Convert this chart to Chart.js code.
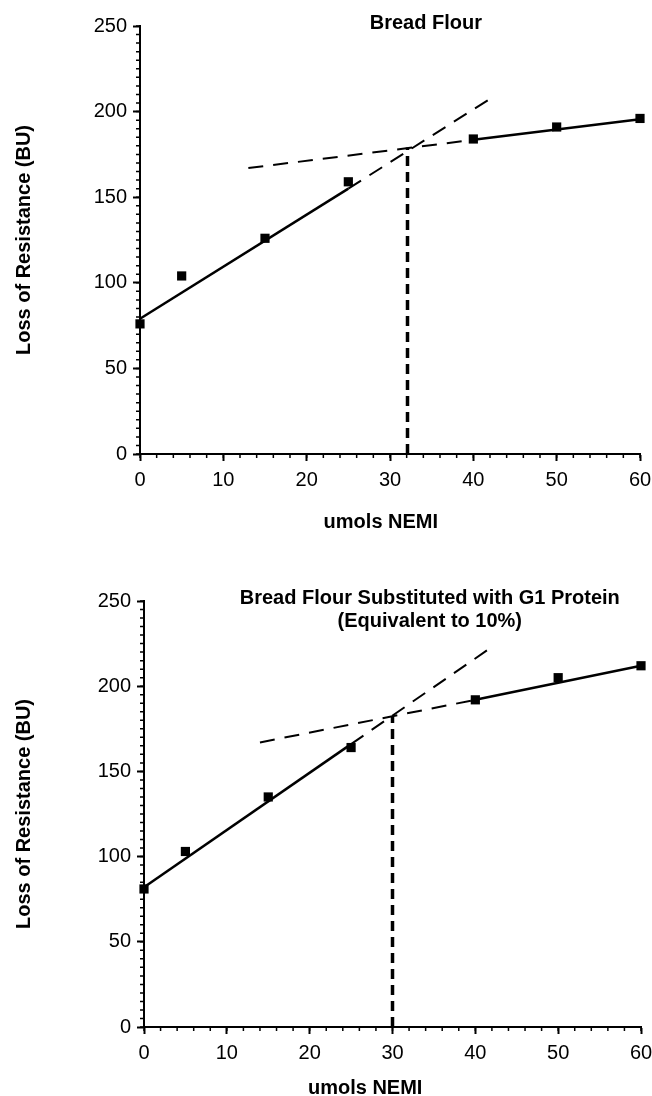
<!DOCTYPE html>
<html>
<head>
<meta charset="utf-8">
<script src="https://cdn.jsdelivr.net/npm/chart.js@4.4.1/dist/chart.umd.min.js"></script>
<style>
  body { margin: 0; background: #fff; }
  .panel { width: 652px; height: 548px; position: relative; }
  canvas { display: block; }
</style>
</head>
<body>

<div class="panel"><canvas id="topChart" width="652" height="548"></canvas></div>
<div class="panel"><canvas id="botChart" width="652" height="548"></canvas></div>

<script>
// ---- data ----
var nemi = [0, 5, 15, 25, 40, 50, 60];

// Bread Flour
var topLoss = [76, 104, 126, 159, 184, 191, 196];
var topSteepX = [0, 25, 42.5];      // solid 0-25, dashed 25-42.5
var topSteepY = [79, 155, 209];
var topFlatX = [13, 40, 60];        // dashed 13-40, solid 40-60
var topFlatY = [167, 183.5, 195.5];
var topBreakX = 32.1, topBreakY = 179;

// Bread Flour + G1 Protein
var botLoss = [81, 103, 135, 164, 192, 205, 212];
var botSteepX = [0, 25, 41.4];
var botSteepY = [82, 166, 221];
var botFlatX = [14, 40, 60];
var botFlatY = [167, 192, 212];
var botBreakX = 30, botBreakY = 182;

var yTicks = [0, 50, 100, 150, 200, 250];
var xTicks = [0, 10, 20, 30, 40, 50, 60];

var FONT = '"Liberation Sans", Arial, Helvetica, sans-serif';

function pts(xs, ys, from, to) {
	var out = [];
	for (var i = from; i <= to; i++) out.push({x: xs[i], y: ys[i]});
	return out;
}

// titles, x-axis title and minor ticks
var panelText = {
	id: 'panelText',
	afterDraw: function(chart, args, o) {
		var ctx = chart.ctx, a = chart.chartArea, sx = chart.scales.x, sy = chart.scales.y;
		ctx.save();
		ctx.fillStyle = '#000';
		ctx.strokeStyle = '#000';
		ctx.lineWidth = 1.5;
		// minor ticks
		ctx.beginPath();
		for (var v = sy.min; v <= sy.max; v += o.yMinor) {
			var py = sy.getPixelForValue(v);
			ctx.moveTo(a.left - 4, py); ctx.lineTo(a.left, py);
		}
		for (var u = sx.min; u <= sx.max; u += o.xMinor) {
			var px = sx.getPixelForValue(u);
			ctx.moveTo(px, a.bottom); ctx.lineTo(px, a.bottom + 4);
		}
		ctx.stroke();

		ctx.textAlign = 'center';
		ctx.textBaseline = 'middle';
		ctx.font = 'bold 20px ' + FONT;
		for (var i = 0; i < o.title.length; i++)
			ctx.fillText(o.title[i], sx.getPixelForValue(o.titleAt), a.top + o.titleDy + i * 23);
		ctx.fillText(o.xTitle, sx.getPixelForValue(o.xTitleAt), a.bottom + o.xTitleDy);
		ctx.restore();
	}
};

function make_chart(id, loss, steepX, steepY, flatX, flatY, breakX, breakY, look) {
	var dashFit = [15, 10];
	return new Chart(document.getElementById(id), {
		type: 'scatter',
		data: {
			datasets: [
				{ data: nemi.map(function(x, i) { return {x: x, y: loss[i]}; }),
				  pointStyle: 'rect', pointRadius: 6.5, backgroundColor: '#000', borderWidth: 0, clip: false },
				{ data: pts(steepX, steepY, 0, 1), showLine: true, borderColor: '#000', borderWidth: 2.5, pointRadius: 0, clip: false },
				{ data: pts(steepX, steepY, 1, 2), showLine: true, borderColor: '#000', borderWidth: 2, borderDash: dashFit, pointRadius: 0, clip: false },
				{ data: pts(flatX, flatY, 0, 1), showLine: true, borderColor: '#000', borderWidth: 2, borderDash: dashFit, pointRadius: 0, clip: false },
				{ data: pts(flatX, flatY, 1, 2), showLine: true, borderColor: '#000', borderWidth: 2.5, pointRadius: 0, clip: false },
				{ data: [{x: breakX, y: 0}, {x: breakX, y: breakY}], showLine: true, borderColor: '#000', borderWidth: 3.5, borderDash: [10, 6], pointRadius: 0, clip: false }
			]
		},
		options: {
			responsive: false,
			animation: false,
			layout: { padding: look.pad },
			plugins: {
				legend: { display: false },
				tooltip: { enabled: false },
				panelText: { title: look.title, titleAt: look.titleAt, titleDy: look.titleDy,
				             xTitle: 'umols NEMI', xTitleAt: look.xTitleAt, xTitleDy: look.xTitleDy,
				             yMinor: 5, xMinor: 2 }
			},
			scales: {
				x: {
					type: 'linear', min: 0, max: 60,
					afterBuildTicks: function(s) { s.ticks = xTicks.map(function(v) { return {value: v}; }); },
					afterFit: function(s) { s.height = look.xHeight; s.paddingRight = 0; s.paddingLeft = 0; },
					grid: { drawOnChartArea: false, tickLength: 7, tickWidth: 2, tickColor: '#000' },
					border: { color: '#000', width: 2 },
					ticks: { color: '#000', padding: 7, font: { family: FONT, size: 20 } }
				},
				y: {
					type: 'linear', min: 0, max: 250,
					afterBuildTicks: function(s) { s.ticks = yTicks.map(function(v) { return {value: v}; }); },
					afterFit: function(s) { s.width = look.yWidth; },
					grid: { drawOnChartArea: false, tickLength: 7, tickWidth: 2, tickColor: '#000' },
					border: { color: '#000', width: 2 },
					ticks: { color: '#000', padding: 6, font: { family: FONT, size: 20 } },
					title: { display: true, text: 'Loss of Resistance (BU)', color: '#000',
					         padding: { top: 12, bottom: 0 }, font: { family: FONT, size: 20, weight: 'bold' } }
				}
			}
		},
		plugins: [panelText]
	});
}

var top_chart = make_chart('topChart', topLoss, topSteepX, topSteepY, topFlatX, topFlatY, topBreakX, topBreakY, {
	pad: { top: 26, right: 12, bottom: 0, left: 0 },
	yWidth: 140, xHeight: 94,
	title: ['Bread Flour'], titleAt: 34.3, titleDy: -3,
	xTitleAt: 28.9, xTitleDy: 68
});

var bot_chart = make_chart('botChart', botLoss, botSteepX, botSteepY, botFlatX, botFlatY, botBreakX, botBreakY, {
	pad: { top: 53, right: 11, bottom: 0, left: 0 },
	yWidth: 144, xHeight: 69,
	title: ['Bread Flour Substituted with G1 Protein', '(Equivalent to 10%)'], titleAt: 34.5, titleDy: -3,
	xTitleAt: 26.7, xTitleDy: 61
});
</script>
</body>
</html>
